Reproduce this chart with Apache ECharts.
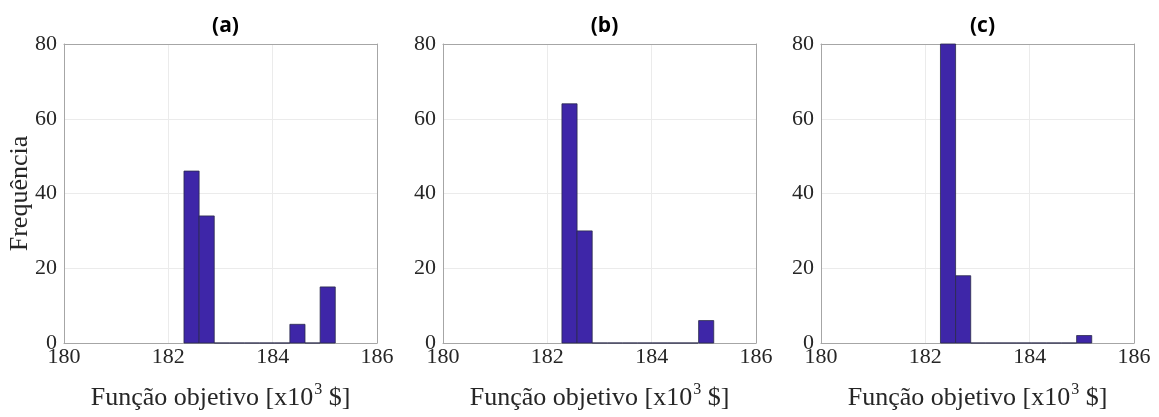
<!DOCTYPE html>
<html>
<head>
<meta charset="utf-8">
<script src="https://cdn.jsdelivr.net/npm/echarts@6/dist/echarts.min.js"></script>
<style>
html,body{margin:0;padding:0;background:#fff;}
#chart{width:1159px;height:417px;}
</style>
</head>
<body>
<div id="chart"></div>
<script>
// Data
const panelTitles = ['(a)', '(b)', '(c)'];
const binStartA = [182.30, 182.59, 182.88, 183.17, 183.46, 183.75, 184.04, 184.33, 184.62, 184.91];
const binStartB = [182.28, 182.57, 182.86, 183.15, 183.44, 183.73, 184.02, 184.31, 184.60, 184.90];
const binStartC = [182.29, 182.58, 182.87, 183.16, 183.45, 183.74, 184.03, 184.32, 184.61, 184.90];
const binWidth = 0.29;
const countsA = [46, 34, 0, 0, 0, 0, 0, 5, 0, 15];
const countsB = [64, 30, 0, 0, 0, 0, 0, 0, 0, 6];
const countsC = [80, 18, 0, 0, 0, 0, 0, 0, 0, 2];
const xTicks = [180, 182, 184, 186];
const yTicks = [0, 20, 40, 60, 80];
const yLabel = 'Frequência';
const xLabel = '{n|Função objetivo [x10}{sup|3}{n| $]}';

const binStarts = [binStartA, binStartB, binStartC];
const counts = [countsA, countsB, countsC];

const chart = echarts.init(document.getElementById('chart'));
const lefts = [64, 443, 821];
const serif = '"Liberation Serif", "Times New Roman", serif';
const axisColor = '#a6a6a6';

const grids = [], xAxes = [], yAxes = [], series = [], titles = [];
for (let i = 0; i < 3; i++) {
  grids.push({left: lefts[i], width: 313, top: 44, height: 299, show: false});
  xAxes.push({
    type: 'value', gridIndex: i, min: xTicks[0], max: xTicks[xTicks.length - 1], interval: 2,
    name: xLabel, nameLocation: 'middle', nameGap: 38,
    nameTextStyle: {fontFamily: serif, fontSize: 26, color: '#262626',
      rich: {
        n: {fontFamily: serif, fontSize: 26, color: '#262626', lineHeight: 30, verticalAlign: 'bottom'},
        sup: {fontFamily: serif, fontSize: 16, color: '#262626', lineHeight: 16, padding: [0, 0, 13, 1], verticalAlign: 'bottom'}
      }},
    axisLine: {show: true, onZero: false, lineStyle: {color: axisColor, width: 1}},
    axisTick: {show: false},
    axisLabel: {fontFamily: serif, fontSize: 22, color: '#262626', margin: 3},
    splitLine: {show: true, lineStyle: {color: '#ebebeb', width: 1}}
  });
  xAxes.push({
    type: 'value', gridIndex: i, position: 'top', min: xTicks[0], max: xTicks[xTicks.length - 1], interval: 2,
    axisLine: {show: true, onZero: false, lineStyle: {color: axisColor, width: 1}},
    axisTick: {show: false}, axisLabel: {show: false}, splitLine: {show: false}
  });
  yAxes.push({
    type: 'value', gridIndex: i, min: 0, max: 80, interval: 20,
    name: i === 0 ? yLabel : '', nameLocation: 'middle', nameGap: 31, nameRotate: 90,
    nameMoveOverlap: false,
    nameTextStyle: {fontFamily: serif, fontSize: 26, color: '#262626'},
    axisLine: {show: true, onZero: false, lineStyle: {color: axisColor, width: 1}},
    axisTick: {show: false},
    axisLabel: {fontFamily: serif, fontSize: 22, color: '#262626', margin: 7},
    splitLine: {show: true, lineStyle: {color: '#ebebeb', width: 1}}
  });
  yAxes.push({
    type: 'value', gridIndex: i, position: 'right', min: 0, max: 80, interval: 20,
    axisLine: {show: true, onZero: false, lineStyle: {color: axisColor, width: 1}},
    axisTick: {show: false}, axisLabel: {show: false}, splitLine: {show: false}
  });
  titles.push({
    text: panelTitles[i], left: lefts[i] + 156.5, top: 11, textAlign: 'center',
    textStyle: {fontFamily: '"Open Sans", Lato, sans-serif', fontWeight: 'bold', fontSize: 21, color: '#000'}
  });
  const data = binStarts[i].map((s, k) => [s, s + binWidth, counts[i][k]]);
  series.push({
    type: 'custom', xAxisIndex: i * 2, yAxisIndex: i * 2,
    data: data,
    encode: {x: [0, 1], y: 2},
    z: 5,
    renderItem: function (params, api) {
      const p0 = api.coord([api.value(0), api.value(2)]);
      const p1 = api.coord([api.value(1), 0]);
      return {
        type: 'rect',
        shape: {x: p0[0], y: p0[1], width: p1[0] - p0[0], height: p1[1] - p0[1]},
        style: {fill: '#3e26a8', stroke: '#2a2a4a', lineWidth: 0.8}
      };
    }
  });
}

chart.setOption({
  backgroundColor: '#fff',
  animation: false,
  title: titles,
  grid: grids,
  xAxis: xAxes,
  yAxis: yAxes,
  series: series
});
</script>
</body>
</html>
